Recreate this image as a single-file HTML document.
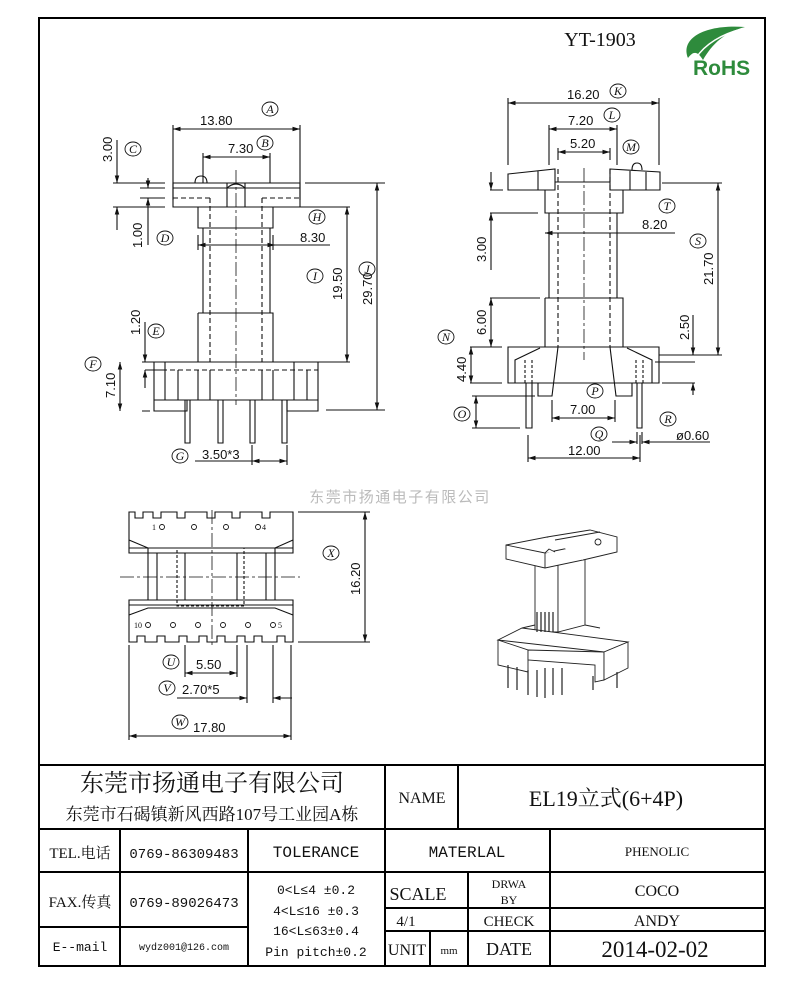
<!DOCTYPE html>
<html><head><meta charset="utf-8"><style>
html,body{margin:0;padding:0;background:#fff;}
svg{display:block}
.d{font-family:"Liberation Sans",sans-serif;font-size:13px;fill:#111}
.c{font-family:"Liberation Serif",serif;font-style:italic;font-size:12px;fill:#111}
.z{font-family:"Liberation Serif","Noto Serif CJK SC",serif;fill:#111}
.m{font-family:"Liberation Mono","Noto Sans CJK SC",monospace;fill:#111}
</style></head><body>
<svg width="800" height="990" viewBox="0 0 800 990" xmlns="http://www.w3.org/2000/svg">
<defs>
<marker id="a" viewBox="0 0 10 10" refX="10" refY="5" markerWidth="7" markerHeight="7" orient="auto-start-reverse"><path d="M0,2 L10,5 L0,8z" fill="#111"/></marker>
</defs>
<rect x="39" y="18" width="726" height="948" fill="none" stroke="#000" stroke-width="2"/>
<text x="600" y="46" class="z" font-size="20" text-anchor="middle">YT-1903</text>
<!-- RoHS -->
<g>
<path d="M688,58 C680,38 705,24 745,27 C725,32 712,44 703,60 C698,52 694,50 688,58z" fill="#2e8b3c"/>
<path d="M696,58 C705,44 722,34 742,29" stroke="#fff" stroke-width="1.5" fill="none"/>
<text x="693" y="75" font-family="Liberation Sans,sans-serif" font-weight="bold" font-size="21" fill="#2e8b3c">RoHS</text>
</g>

<g stroke="#111" stroke-width="1.1" fill="none">
<!-- LEFT VIEW -->
<path d="M173,183 H300 V207 H173Z M173,188 H300"/>
<path d="M195,183 Q195,176 201,176 Q207,176 207,183"/>
<path d="M227,183 V207 M245,183 V207 M227,188 Q236,180 245,188"/>
<path d="M173,198 H210 M262,198 H300" stroke-dasharray="5,3"/>
<path d="M198,207 V228 H273 V207 M203,228 V313 M270,228 V313 M198,313 H273 V362 M198,313 V362"/>
<path d="M210,198 V362 M262,198 V362" stroke-dasharray="5,3"/>
<path d="M236,170 V405" stroke-dasharray="14,3,3,3" stroke-width="0.8"/>
<path d="M154,362 H318 V400 H154Z M154,400 V411 H187 V400 M318,400 V411 H287 V400"/>
<path d="M165,362 V400 M178,370 V400 M198,370 V400 M210,370 V400 M262,370 V400 M273,370 V400 M294,362 V400 M307,370 V400"/>
<path d="M154,370 H318" stroke-dasharray="5,3"/>
<path d="M185,400 V443 H190 V400 M218,400 V443 H223 V400 M250,400 V443 H255 V400 M282,400 V443 H287 V400"/>
<!-- left dims -->
<path d="M173,200 V125 M300,200 V125"/>
<path d="M173,129 H300" marker-start="url(#a)" marker-end="url(#a)"/>
<path d="M203,183 V153 M270,183 V153"/>
<path d="M203,157 H270" marker-start="url(#a)" marker-end="url(#a)"/>
<path d="M113,183 H165 M113,207 H165 M117,140 V183" marker-end="url(#a)"/>
<path d="M117,230 V207" marker-end="url(#a)"/>
<path d="M148,178 V188" marker-end="url(#a)"/>
<path d="M148,245 V198" marker-end="url(#a)"/>
<path d="M140,188 H165 M140,198 H165"/>
<path d="M203,245 H198" marker-end="url(#a)"/>
<path d="M270,245 H275" marker-end="url(#a)"/>
<path d="M203,245 H330 M198,235 V250 M273,235 V250"/>
<path d="M273,207 H350 M318,362 H350"/>
<path d="M347,207 V362" marker-start="url(#a)" marker-end="url(#a)"/>
<path d="M305,183 H385 M326,410 H385"/>
<path d="M377,183 V410" marker-start="url(#a)" marker-end="url(#a)"/>
<path d="M142,362 H165 M145,370 H165 M142,411 H150"/>
<path d="M120,362 V411" marker-start="url(#a)" marker-end="url(#a)"/>
<path d="M145,322 V362" marker-end="url(#a)"/>
<path d="M145,388 V370" marker-end="url(#a)"/>
<path d="M252,445 V465 M287,445 V465"/>
<path d="M252,461 H287" marker-start="url(#a)" marker-end="url(#a)"/>
<path d="M195,461 H252"/>

<!-- RIGHT VIEW -->
<path d="M508,174 L555,169 V190 H508Z M538,171 V190"/>
<path d="M610,169 L660,172 V190 H610Z M630,171 V190 M646,172 V190"/>
<path d="M555,182 H610"/>
<path d="M632,170 Q632,163 637,163 Q642,163 642,170"/>
<path d="M545,190 V213 H623 V190 M549,213 V298 M617,213 V298 M545,298 H623 V347 M545,298 V347"/>
<path d="M558,169 V347 M610,169 V347" stroke-dasharray="5,3"/>
<path d="M584,168 V360" stroke-dasharray="14,3,3,3" stroke-width="0.8"/>
<path d="M508,347 H659 V383 H508Z"/>
<path d="M515,383 V360 L540,348 M652,383 V360 L627,348"/>
<path d="M558,347 L552,396 H538 V383 M610,347 L616,396 H632 V383"/>
<path d="M525,360 V383 M532,360 V383 M636,360 V383 M643,360 V383" stroke-dasharray="3,2"/>
<path d="M526,383 V428 H532 V383 M637,383 V428 H642 V383"/>
<!-- right dims -->
<path d="M508,165 V98 M659,165 V98"/>
<path d="M508,103 H659" marker-start="url(#a)" marker-end="url(#a)"/>
<path d="M549,165 V125 M617,165 V125"/>
<path d="M549,129 H617" marker-start="url(#a)" marker-end="url(#a)"/>
<path d="M558,160 V148 M610,160 V148"/>
<path d="M558,152 H610" marker-start="url(#a)" marker-end="url(#a)"/>
<path d="M490,190 H503 M490,213 H538"/>
<path d="M491,172 V190" marker-end="url(#a)"/>
<path d="M491,270 V213" marker-end="url(#a)"/>
<path d="M549,233 H675"/>
<path d="M549,233 H545" marker-end="url(#a)"/>
<path d="M490,298 H540 M490,347 H502"/>
<path d="M491,298 V347" marker-start="url(#a)" marker-end="url(#a)"/>
<path d="M470,347 H502 M470,383 H502"/>
<path d="M471,347 V383" marker-start="url(#a)" marker-end="url(#a)"/>
<path d="M472,396 H535 M472,428 H520"/>
<path d="M476,396 V428" marker-start="url(#a)" marker-end="url(#a)"/>
<path d="M662,183 H722 M659,355 H722"/>
<path d="M718,183 V355" marker-start="url(#a)" marker-end="url(#a)"/>
<path d="M655,362 H695 M662,383 H695 M693,315 V355"/>
<path d="M693,345 V355" marker-end="url(#a)"/>
<path d="M693,395 V383" marker-end="url(#a)"/>
<path d="M552,400 V422 M615,400 V422"/>
<path d="M552,418 H615" marker-start="url(#a)" marker-end="url(#a)"/>
<path d="M528,435 V462 M640,435 V462 M637,432 V444 M642,432 V444"/>
<path d="M528,458 H640" marker-start="url(#a)" marker-end="url(#a)"/>
<path d="M612,442 H637" marker-end="url(#a)"/>
<path d="M670,442 H642" marker-end="url(#a)"/>
<path d="M642,442 H710"/>

<!-- BOTTOM VIEW -->
<path d="M129,512 H135 V518 H143 V512 H153 V518 H161 V512 H177 V518 H185 V512 H207 V518 H215 V512 H232 V518 H240 V512 H262 V518 H270 V512 H293 V553 H129Z"/>
<path d="M129,540 L148,548 H275 L293,540 M129,548 H293 M148,548 V553 M275,548 V553"/>
<path d="M148,553 V600 M157,553 V600 M185,553 V600 M237,553 V600 M266,553 V600 M275,553 V600"/>
<path d="M129,600 H293 V642 H285 V636 H277 V642 H262 V636 H254 V642 H245 V636 H237 V642 H225 V636 H217 V642 H207 V636 H199 V642 H187 V636 H179 V642 H165 V636 H157 V642 H145 V636 H137 V642 H129Z"/>
<path d="M129,605 H293 M129,615 L148,608 H275 L293,615"/>
<path d="M177,548 H244 V606 H177Z" stroke-dasharray="3,2"/>
<path d="M212,510 V645 M120,577 H300" stroke-dasharray="14,3,3,3" stroke-width="0.8"/>
<path d="M298,512 H370 M298,642 H370"/>
<path d="M365,512 V642" marker-start="url(#a)" marker-end="url(#a)"/>
<path d="M185,645 V677 M237,645 V677"/>
<path d="M185,673 H237" marker-start="url(#a)" marker-end="url(#a)"/>
<path d="M247,645 V703 M273,645 V703"/>
<path d="M177,698 H247" marker-end="url(#a)"/>
<path d="M292,698 H273" marker-end="url(#a)"/>
<path d="M129,645 V740 M291,645 V740"/>
<path d="M129,736 H291" marker-start="url(#a)" marker-end="url(#a)"/>
</g>
<g fill="none" stroke="#111" stroke-width="0.9">
<circle cx="162" cy="527" r="2.5"/><circle cx="194" cy="527" r="2.5"/><circle cx="226" cy="527" r="2.5"/><circle cx="258" cy="527" r="2.5"/>
<circle cx="148" cy="625" r="2.5"/><circle cx="173" cy="625" r="2.5"/><circle cx="198" cy="625" r="2.5"/><circle cx="223" cy="625" r="2.5"/><circle cx="248" cy="625" r="2.5"/><circle cx="273" cy="625" r="2.5"/>
</g>
<g style="font-family:Liberation Serif,serif;font-size:8px" fill="#111">
<text x="152" y="530">1</text><text x="262" y="530">4</text><text x="134" y="628">10</text><text x="278" y="628">5</text>
</g>

<!-- 3D view -->
<g stroke="#222" stroke-width="0.9" fill="#fff">
<path d="M535,560 V632 H558 V560Z"/>
<path d="M558,560 V632 L585,625 V553Z"/>
<path d="M498,640 L522,628 L628,642 L604,652Z"/>
<path d="M498,640 V665 L528,672 V650Z"/>
<path d="M528,650 L604,652 V680 L595,682 V665 L528,660Z"/>
<path d="M604,652 L628,642 V668 L604,680Z"/>
<path d="M522,628 L535,625 M585,625 L600,628"/>
<path d="M506,545 L547,537 L583,545 L583,560 L545,568 L506,559Z"/>
<path d="M506,545 L545,553 L583,545 M545,553 V568"/>
<path d="M545,553 L549,549 L555,552"/>
<path d="M547,537 L590,530 L617,537 V552 L583,560"/>
<path d="M555,540 L600,532"/>
<circle cx="598" cy="542" r="3"/>
</g>
<g stroke="#222" stroke-width="1.2">
<path d="M537,612 V632 M541,612 V632 M545,612 V632 M549,612 V632 M553,612 V632"/>
<path d="M508,665 V688 M517,667 V690 M528,670 V695 M537,670 V697 M545,668 V698 M553,668 V695 M562,668 V695 M593,676 V690 M617,672 V688"/>
</g>

<!-- watermark -->
<text x="400" y="502" text-anchor="middle" font-family="Noto Sans CJK SC,sans-serif" font-size="15" fill="#bbb" letter-spacing="1.5">东莞市扬通电子有限公司</text>

<!-- dimension texts -->
<g class="d">
<text x="200" y="125">13.80</text>
<text x="228" y="153">7.30</text>
<text x="300" y="242">8.30</text>
<text x="202" y="459">3.50*3</text>
<text x="567" y="99">16.20</text>
<text x="568" y="125">7.20</text>
<text x="570" y="148">5.20</text>
<text x="642" y="229">8.20</text>
<text x="570" y="414">7.00</text>
<text x="568" y="455">12.00</text>
<text x="676" y="440">ø0.60</text>
<text x="196" y="669">5.50</text>
<text x="182" y="694">2.70*5</text>
<text x="193" y="732">17.80</text>
<text transform="translate(112,162) rotate(-90)">3.00</text>
<text transform="translate(142,248) rotate(-90)">1.00</text>
<text transform="translate(140,335) rotate(-90)">1.20</text>
<text transform="translate(115,398) rotate(-90)">7.10</text>
<text transform="translate(342,300) rotate(-90)">19.50</text>
<text transform="translate(372,305) rotate(-90)">29.70</text>
<text transform="translate(486,262) rotate(-90)">3.00</text>
<text transform="translate(486,335) rotate(-90)">6.00</text>
<text transform="translate(466,382) rotate(-90)">4.40</text>
<text transform="translate(713,285) rotate(-90)">21.70</text>
<text transform="translate(689,340) rotate(-90)">2.50</text>
<text transform="translate(360,595) rotate(-90)">16.20</text>
</g>
<g fill="none" stroke="#111" stroke-width="0.9">
<ellipse cx="270" cy="109" rx="8" ry="7"/><ellipse cx="265" cy="143" rx="8" ry="7"/>
<ellipse cx="133" cy="149" rx="8" ry="7"/><ellipse cx="165" cy="238" rx="8" ry="7"/>
<ellipse cx="317" cy="217" rx="8" ry="7"/><ellipse cx="315" cy="276" rx="8" ry="7"/>
<ellipse cx="367" cy="269" rx="8" ry="7"/><ellipse cx="156" cy="331" rx="8" ry="7"/>
<ellipse cx="93" cy="364" rx="8" ry="7"/><ellipse cx="180" cy="456" rx="8" ry="7"/>
<ellipse cx="618" cy="91" rx="8" ry="7"/><ellipse cx="612" cy="115" rx="8" ry="7"/>
<ellipse cx="631" cy="147" rx="8" ry="7"/><ellipse cx="667" cy="206" rx="8" ry="7"/>
<ellipse cx="698" cy="241" rx="8" ry="7"/><ellipse cx="446" cy="337" rx="8" ry="7"/>
<ellipse cx="595" cy="391" rx="8" ry="7"/><ellipse cx="462" cy="414" rx="8" ry="7"/>
<ellipse cx="599" cy="434" rx="8" ry="7"/><ellipse cx="668" cy="419" rx="8" ry="7"/>
<ellipse cx="331" cy="553" rx="8" ry="7"/><ellipse cx="171" cy="662" rx="8" ry="7"/>
<ellipse cx="167" cy="688" rx="8" ry="7"/><ellipse cx="180" cy="722" rx="8" ry="7"/>
</g>
<g class="c" text-anchor="middle">
<text x="270" y="113">A</text><text x="265" y="147">B</text><text x="133" y="153">C</text><text x="165" y="242">D</text>
<text x="317" y="221">H</text><text x="315" y="280">I</text><text x="367" y="273">J</text><text x="156" y="335">E</text>
<text x="93" y="368">F</text><text x="180" y="460">G</text><text x="618" y="95">K</text><text x="612" y="119">L</text>
<text x="631" y="151">M</text><text x="667" y="210">T</text><text x="698" y="245">S</text><text x="446" y="341">N</text>
<text x="595" y="395">P</text><text x="462" y="418">O</text><text x="599" y="438">Q</text><text x="668" y="423">R</text>
<text x="331" y="557">X</text><text x="171" y="666">U</text><text x="167" y="692">V</text><text x="180" y="726">W</text>
</g>

<!-- TITLE BLOCK -->
<g stroke="#000" stroke-width="2" fill="none">
<path d="M39,765 H765 M39,829 H765 M39,872 H765 M39,927 H248 M385,908 H765 M385,931 H765"/>
<path d="M385,765 V966 M458,765 V829 M120,829 V966 M248,829 V966 M550,829 V966 M468,872 V966 M430,931 V966"/>
</g>
<g class="z" text-anchor="middle">
<text x="212" y="791" font-size="24">东莞市扬通电子有限公司</text>
<text x="212" y="820" font-size="17">东莞市石碣镇新风西路107号工业园A栋</text>
<text x="422" y="803" font-size="16">NAME</text>
<text x="606" y="806" font-size="22">EL19立式(6+4P)</text>
<text x="80" y="858" font-size="15">TEL.电话</text>
<text x="80" y="907" font-size="15">FAX.传真</text>
<text x="657" y="856" font-size="13">PHENOLIC</text>
<text x="418" y="900" font-size="18">SCALE</text>
<text x="509" y="888" font-size="12">DRWA</text>
<text x="509" y="904" font-size="12">BY</text>
<text x="657" y="896" font-size="16">COCO</text>
<text x="406" y="926" font-size="15">4/1</text>
<text x="509" y="926" font-size="15">CHECK</text>
<text x="657" y="926" font-size="16">ANDY</text>
<text x="407" y="955" font-size="16">UNIT</text>
<text x="449" y="954" font-size="11">mm</text>
<text x="509" y="955" font-size="18">DATE</text>
<text x="655" y="957" font-size="23">2014-02-02</text>
</g>
<g class="m" text-anchor="middle">
<text x="184" y="858" font-size="14">0769-86309483</text>
<text x="184" y="907" font-size="14">0769-89026473</text>
<text x="80" y="951" font-size="13">E--mail</text>
<text x="184" y="950" font-size="10">wydz001@126.com</text>
<text x="316" y="857" font-size="16">TOLERANCE</text>
<text x="467" y="857" font-size="16">MATERLAL</text>
<text x="316" y="894" font-size="13">0&lt;L≤4  ±0.2</text>
<text x="316" y="915" font-size="13">4&lt;L≤16 ±0.3</text>
<text x="316" y="935" font-size="13">16&lt;L≤63±0.4</text>
<text x="316" y="956" font-size="13">Pin pitch±0.2</text>
</g>
</svg>
</body></html>
